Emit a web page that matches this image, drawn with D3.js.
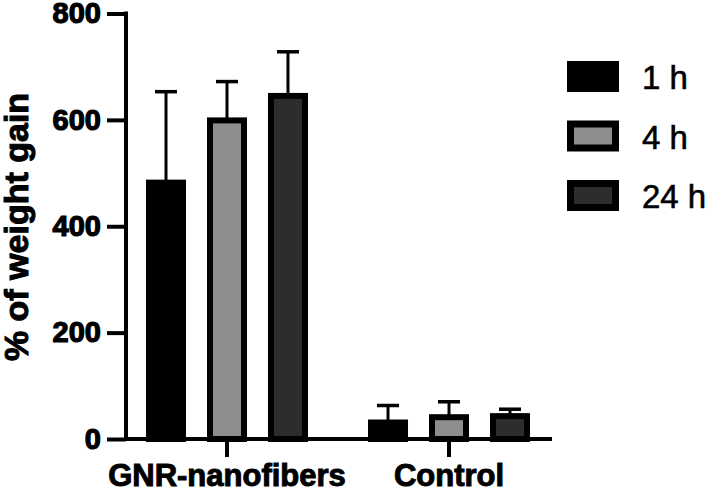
<!DOCTYPE html>
<html>
<head>
<meta charset="utf-8">
<script src="https://cdn.jsdelivr.net/npm/d3@7"></script>
<style>
  body { margin: 0; background: #fff; }
  text { font-family: "Liberation Sans", Arial, sans-serif; }
</style>
</head>
<body>
<div id="chart"></div>
<script>
// data
var groups = ["GNR-nanofibers", "Control"];
var series = ["1 h", "4 h", "24 h"];
var colors = ["#000000", "#8e8e8e", "#2d2d2d"];
var means = [[482, 599, 645], [31, 41, 43]];
var errTop = [[653, 672, 728], [63, 70, 56]];
var yTicks = [0, 200, 400, 600, 800];

var W = 708, H = 492;

var svg = d3.select("#chart")
  .append("svg")
  .attr("width", W)
  .attr("height", H);

// scales
var y = d3.scaleLinear()
  .domain([0, 800])
  .range([439, 13.5]);

var x0 = d3.scaleBand()
  .domain(groups)
  .range([116, 560]);

var x1 = d3.scaleBand()
  .domain(series)
  .range([0, x0.bandwidth()])
  .paddingInner(0.344)
  .paddingOuter(0.492);

var color = d3.scaleOrdinal().domain(series).range(colors);

var rows = [];
groups.forEach(function(g, gi) {
  series.forEach(function(s, si) {
    rows.push({ group: g, series: s, mean: means[gi][si], top: errTop[gi][si] });
  });
});

var bw = 6;

// error bars (upper only)
var eb = svg.append("g").selectAll("g")
  .data(rows)
  .enter().append("g")
  .attr("transform", function(d) {
    return "translate(" + (x0(d.group) + x1(d.series) + x1.bandwidth() / 2) + ",0)";
  });

eb.append("line")
  .attr("x1", 0).attr("x2", 0)
  .attr("y1", function(d) { return y(d.mean); })
  .attr("y2", function(d) { return y(d.top); })
  .attr("stroke", "#000")
  .attr("stroke-width", 3);

eb.append("line")
  .attr("x1", -11).attr("x2", 11)
  .attr("y1", function(d) { return y(d.top); })
  .attr("y2", function(d) { return y(d.top); })
  .attr("stroke", "#000")
  .attr("stroke-width", 3.5);

// bars
svg.append("g").selectAll("rect")
  .data(rows)
  .enter().append("rect")
  .attr("x", function(d) { return x0(d.group) + x1(d.series) + bw / 2; })
  .attr("width", x1.bandwidth() - bw)
  .attr("y", function(d) { return y(d.mean); })
  .attr("height", function(d) { return y(0) - y(d.mean); })
  .attr("fill", function(d) { return color(d.series); })
  .attr("stroke", "#000")
  .attr("stroke-width", bw);

// y axis
var yAxis = svg.append("g")
  .attr("transform", "translate(126,0)")
  .call(d3.axisLeft(y).tickValues(yTicks).tickSize(19).tickPadding(6).tickSizeOuter(0));

yAxis.select(".domain").attr("stroke-width", 4)
  .attr("d", "M0," + (y(800) - 2) + "V" + y(0));
yAxis.selectAll(".tick line").attr("stroke-width", 4);
yAxis.selectAll(".tick text")
  .attr("font-size", 29)
  .attr("font-weight", "bold")
  .attr("fill", "#000")
  .attr("stroke", "#000")
  .attr("stroke-width", 1.2)
  .style("font-family", "'Liberation Sans', Arial, sans-serif");

// x axis
var xAxis = svg.append("g")
  .attr("transform", "translate(0," + y(0) + ")")
  .call(d3.axisBottom(x0).tickSize(18).tickPadding(7).tickSizeOuter(0));

xAxis.select(".domain").attr("stroke-width", 4).attr("d", "M124,0H552");
xAxis.selectAll(".tick line").attr("stroke-width", 4);
xAxis.selectAll(".tick text")
  .attr("font-size", 31)
  .attr("font-weight", "bold")
  .attr("fill", "#000")
  .attr("stroke", "#000")
  .attr("stroke-width", 1)
  .style("font-family", "'Liberation Sans', Arial, sans-serif");

// y title
svg.append("text")
  .attr("transform", "translate(28,227) rotate(-90)")
  .attr("text-anchor", "middle")
  .attr("font-size", 34)
  .attr("font-weight", "bold")
  .attr("stroke", "#000")
  .attr("stroke-width", 1)
  .text("% of weight gain");

// legend
var lw = 7;
var leg = svg.append("g").selectAll("g")
  .data(series)
  .enter().append("g")
  .attr("transform", function(d, i) { return "translate(567," + (61 + i * 59.5) + ")"; });

leg.append("rect")
  .attr("x", lw / 2).attr("y", lw / 2)
  .attr("width", 52 - lw).attr("height", 31 - lw)
  .attr("fill", function(d) { return color(d); })
  .attr("stroke", "#000")
  .attr("stroke-width", lw);

leg.append("text")
  .attr("x", 75)
  .attr("y", 28)
  .attr("font-size", 33)
  .attr("fill", "#000")
  .attr("stroke", "#000")
  .attr("stroke-width", 0.6)
  .text(function(d) { return d; });
</script>
</body>
</html>
